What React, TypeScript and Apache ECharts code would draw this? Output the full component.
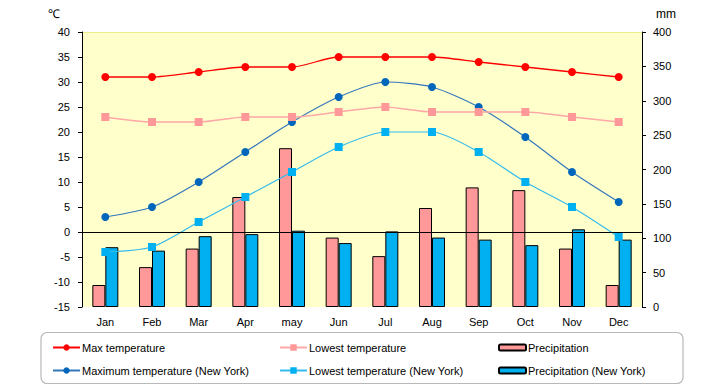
import React, { useEffect, useRef } from "react";
import * as echarts from "echarts";

const months = ["Jan", "Feb", "Mar", "Apr", "may", "Jun", "Jul", "Aug", "Sep", "Oct", "Nov", "Dec"];
const maxTemp = [31, 31, 32, 33, 33, 35, 35, 35, 34, 33, 32, 31];
const lowTemp = [23, 22, 22, 23, 23, 24, 25, 24, 24, 24, 23, 22];
const nyMaxTemp = [3, 5, 10, 16, 22, 27, 30, 29, 25, 19, 12, 6];
const nyLowTemp = [-4, -3, 2, 7, 12, 17, 20, 20, 16, 10, 5, -1];
const precip = [32, 58, 85, 160, 231, 101, 74, 144, 174, 170, 85, 32];
const nyPrecip = [87, 82, 103, 106, 111, 93, 110, 101, 98, 90, 113, 98];

const FONT = "'Liberation Sans', Arial, sans-serif";

export default function App() {
  const ref = useRef<HTMLDivElement>(null);
  useEffect(() => {
    if (!ref.current) return;
    const chart = echarts.init(ref.current, undefined, { renderer: "svg" });
    const legendText = { fontSize: 11, color: "#000", fontFamily: FONT, padding: [0, 0, 0, -3] };
    const legendBase = {
      top: 342,
      orient: "vertical",
      itemGap: 12,
      padding: 0,
      textStyle: legendText,
    };
    chart.setOption({
      animation: false,
      textStyle: { fontFamily: FONT },
      grid: {
        left: 82,
        right: 78,
        top: 32,
        bottom: 78,
        show: true,
        backgroundColor: "#FFFFCC",
        borderWidth: 0,
      },
      graphic: [
        {
          type: "rect",
          shape: { x: 41, y: 332.5, width: 642, height: 51, r: 6 },
          style: { fill: "none", stroke: "#B8B8B8", lineWidth: 1.2 },
          z: -1,
        },
        {
          type: "line",
          shape: { x1: 82, y1: 32.5, x2: 642, y2: 32.5 },
          style: { stroke: "#EEEE88", lineWidth: 1 },
        },
        {
          type: "text",
          left: 48,
          top: 8,
          style: { text: "℃", fontSize: 12, fill: "#000", fontFamily: FONT },
        },
        {
          type: "text",
          left: 656,
          top: 8,
          style: { text: "mm", fontSize: 12, fill: "#000", fontFamily: FONT },
        },
      ],
      legend: [
        {
          ...legendBase,
          left: 52,
          itemWidth: 27,
          itemHeight: 8,
          data: ["Max temperature", "Maximum temperature (New York)"],
        },
        {
          ...legendBase,
          left: 279,
          itemWidth: 27,
          itemHeight: 8,
          data: ["Lowest temperature", "Lowest temperature (New York)"],
        },
        {
          ...legendBase,
          left: 498,
          itemWidth: 27,
          itemHeight: 6,
          data: ["Precipitation", "Precipitation (New York)"],
        },
      ],
      xAxis: {
        type: "category",
        data: months,
        axisLine: { show: false },
        axisTick: { show: false },
        axisLabel: { fontSize: 11, color: "#000", margin: 9, fontFamily: FONT },
        splitLine: { show: false },
      },
      yAxis: [
        {
          type: "value",
          min: -15,
          max: 40,
          interval: 5,
          axisLine: { show: true, lineStyle: { color: "#000", width: 1 } },
          axisTick: { show: true, length: 4, lineStyle: { color: "#000" } },
          axisLabel: { fontSize: 11, color: "#000", margin: 12, fontFamily: FONT },
          splitLine: { show: false },
        },
        {
          type: "value",
          min: 0,
          max: 400,
          interval: 50,
          position: "right",
          axisLine: { show: true, lineStyle: { color: "#000", width: 1 } },
          axisTick: { show: true, length: 4, lineStyle: { color: "#000" } },
          axisLabel: { fontSize: 11, color: "#000", margin: 11, fontFamily: FONT },
          splitLine: { show: false },
        },
      ],
      series: [
        {
          name: "Precipitation",
          type: "bar",
          yAxisIndex: 1,
          data: precip,
          barWidth: 13,
          barGap: "0%",
          itemStyle: { color: "#FF9999", borderColor: "#000", borderWidth: 1 },
          z: 1,
        },
        {
          name: "Precipitation (New York)",
          type: "bar",
          yAxisIndex: 1,
          data: nyPrecip,
          barWidth: 13,
          barGap: "0%",
          itemStyle: { color: "#00B0F0", borderColor: "#000", borderWidth: 1 },
          z: 1,
        },
        {
          name: "Lowest temperature (New York)",
          type: "line",
          yAxisIndex: 0,
          data: nyLowTemp,
          smooth: 0.25,
          symbol: "rect",
          symbolSize: 8,
          lineStyle: { color: "#33BBEE", width: 1.2 },
          itemStyle: { color: "#00B0F0" },
          z: 3,
          markLine: {
            silent: true,
            symbol: "none",
            label: { show: false },
            lineStyle: { color: "#000", width: 1, type: "solid" },
            data: [{ yAxis: 0 }],
          },
        },
        {
          name: "Maximum temperature (New York)",
          type: "line",
          yAxisIndex: 0,
          data: nyMaxTemp,
          smooth: 0.25,
          symbol: "circle",
          symbolSize: 8,
          lineStyle: { color: "#3377BB", width: 1.2 },
          itemStyle: { color: "#0066BB" },
          z: 4,
        },
        {
          name: "Lowest temperature",
          type: "line",
          yAxisIndex: 0,
          data: lowTemp,
          smooth: 0.25,
          symbol: "rect",
          symbolSize: 8,
          lineStyle: { color: "#FFA8A8", width: 1.5 },
          itemStyle: { color: "#FF9999" },
          z: 5,
        },
        {
          name: "Max temperature",
          type: "line",
          yAxisIndex: 0,
          data: maxTemp,
          smooth: 0.25,
          symbol: "circle",
          symbolSize: 8,
          lineStyle: { color: "#FF0000", width: 1.3 },
          itemStyle: { color: "#FF0000" },
          z: 6,
        },
      ],
    });
    return () => chart.dispose();
  }, []);
  return (
    <div
      ref={ref}
      style={{ position: "absolute", left: 0, top: 0, width: 720, height: 385 }}
    />
  );
}
